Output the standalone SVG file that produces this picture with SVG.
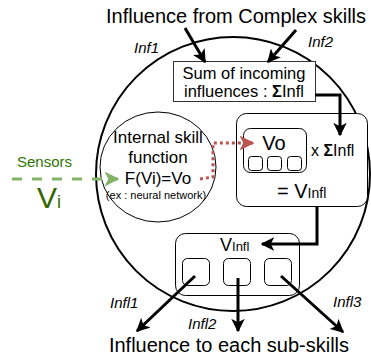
<svg xmlns="http://www.w3.org/2000/svg" width="371" height="361" viewBox="0 0 371 361">
<defs>
<style>
text{font-family:"Liberation Sans",Arial,sans-serif;fill:#000}
.thick{fill:none;stroke:#000;stroke-width:3}
.box{fill:#fff;stroke:#000;stroke-width:1}
.it{font-style:italic;font-size:15px}
</style>
<marker id="ah" viewBox="0 0 10 10" refX="9" refY="5" markerWidth="4.5" markerHeight="4.5" orient="auto" markerUnits="strokeWidth">
<path d="M0,0 L10,5 L0,10 L2.5,5 Z" fill="#000"/>
</marker>
<marker id="ahr" viewBox="0 0 10 10" refX="9" refY="5" markerWidth="5" markerHeight="5" orient="auto" markerUnits="strokeWidth">
<path d="M0,0 L10,5 L0,10 L2.5,5 Z" fill="#b85450"/>
</marker>
<marker id="ahg" viewBox="0 0 10 10" refX="9" refY="5" markerWidth="5" markerHeight="5" orient="auto" markerUnits="strokeWidth">
<path d="M0,0 L10,5 L0,10 L2.5,5 Z" fill="#82b366"/>
</marker>
</defs>
<rect width="371" height="361" fill="#fff"/>
<g id="skill">
<circle cx="233" cy="174" r="137" fill="none" stroke="#000" stroke-width="2"/>
</g>
<text x="236" y="23" font-size="20" text-anchor="middle">Influence from Complex skills</text>
<text x="134" y="53" class="it">Inf1</text>
<text x="308" y="47" class="it">Inf2</text>
<g id="sum">
<rect x="173.5" y="61.5" width="142" height="40" fill="#fff" stroke="#333"/>
<text x="244" y="79" font-size="16.5" text-anchor="middle">Sum of incoming</text>
<text x="244" y="97" font-size="16.5" text-anchor="middle">influences : <tspan font-weight="bold">Σ</tspan>Infl</text>
</g>
<g id="internal">
<ellipse cx="158" cy="167" rx="58" ry="55" fill="#fff" stroke="#000"/>
<text x="158" y="143" font-size="17" text-anchor="middle">Internal skill</text>
<text x="158" y="163" font-size="17" text-anchor="middle">function</text>
<text x="158" y="184" font-size="17" text-anchor="middle">F(Vi)=Vo</text>
<text x="156" y="199" font-size="11" text-anchor="middle">(ex : neural network)</text>
</g>
<g id="sensors">
<text x="17" y="167" font-size="15" style="fill:#2d7600">Sensors</text>
<text x="37" y="208" font-size="30" style="fill:#336600">V<tspan font-size="18">i</tspan></text>
</g>
<g id="product">
<rect x="236.5" y="113.5" width="131" height="93" rx="10" class="box"/>
<rect x="243.5" y="128.5" width="63" height="44" rx="7" class="box"/>
<text x="274" y="150" font-size="20" text-anchor="middle">Vo</text>
<rect x="248.5" y="156.5" width="14" height="14" rx="3" class="box"/>
<rect x="267.5" y="156.5" width="14" height="14" rx="3" class="box"/>
<rect x="287.5" y="156.5" width="14" height="14" rx="3" class="box"/>
<text x="311" y="156" font-size="16">x <tspan font-weight="bold">Σ</tspan>Infl</text>
<text x="277" y="198" font-size="20">= V<tspan font-size="14">Infl</tspan></text>
</g>
<g id="output">
<rect x="175.5" y="233.5" width="124" height="62" rx="10" class="box"/>
<text x="220" y="251" font-size="18">V<tspan font-size="13">Infl</tspan></text>
<rect x="182.5" y="258.5" width="27" height="27" rx="5" class="box"/>
<rect x="223.5" y="258.5" width="27" height="27" rx="5" class="box"/>
<rect x="264.5" y="258.5" width="27" height="27" rx="5" class="box"/>
</g>
<g id="connectors">
<line x1="185" y1="28" x2="205" y2="62" class="thick" marker-end="url(#ah)"/>
<line x1="296" y1="30" x2="268" y2="62" class="thick" marker-end="url(#ah)"/>
<path d="M315,95 L340,95 L340,135" class="thick" marker-end="url(#ah)"/>
<path d="M317,206 L317,244 L262,244" class="thick" marker-end="url(#ah)"/>
<line x1="12" y1="179" x2="118" y2="179" stroke="#82b366" stroke-width="3" stroke-dasharray="10 10" marker-end="url(#ahg)"/>
<path d="M200,179 L213,177 L213,143 L253,143" fill="none" stroke="#b85450" stroke-width="3" stroke-dasharray="3 3" marker-end="url(#ahr)"/>
<line x1="195" y1="276" x2="137" y2="331" class="thick" marker-end="url(#ah)"/>
<line x1="238" y1="278" x2="238" y2="331" class="thick" marker-end="url(#ah)"/>
<line x1="281" y1="276" x2="343" y2="332" class="thick" marker-end="url(#ah)"/>
</g>
<text x="110" y="308" class="it">Infl1</text>
<text x="188" y="329" class="it">Infl2</text>
<text x="333" y="307" class="it">Infl3</text>
<text x="229" y="352" font-size="20" text-anchor="middle">Influence to each sub-skills</text>
</svg>
